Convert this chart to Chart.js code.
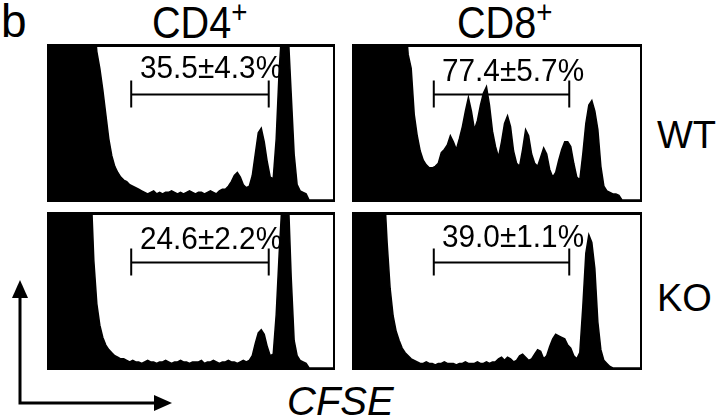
<!DOCTYPE html>
<html>
<head>
<meta charset="utf-8">
<script src="https://cdn.jsdelivr.net/npm/chart.js@4"></script>
<style>
body { margin: 0; background: #fff; width: 720px; height: 417px; overflow: hidden; position: relative; font-family: "Liberation Sans", Arial, sans-serif; }
.panel { position: absolute; box-sizing: border-box; border: 2px solid #000; border-top-width: 3px; }
.panel canvas { display: block; }
.lbl { position: absolute; line-height: 1; white-space: nowrap; color: #000; }
.pct { font-size: 32px; transform: scaleX(0.93); transform-origin: left top; }
.hdr { font-size: 44px; transform: scaleX(0.9); transform-origin: left top; }
sup { font-size: 0.7em; vertical-align: 0.5em; line-height: 0; }
</style>
</head>
<body>
<div class="lbl" style="left:1px;top:-2px;font-size:46px">b</div>
<div class="lbl hdr" style="left:152px;top:1px">CD4<sup>+</sup></div>
<div class="lbl hdr" style="left:457px;top:1px">CD8<sup>+</sup></div>

<div class="panel" style="left:47px;top:44px;width:288px;height:158px"><canvas id="cd4wt" width="284" height="153"></canvas></div>
<div class="panel" style="left:352px;top:44px;width:290px;height:158px"><canvas id="cd8wt" width="286" height="153"></canvas></div>
<div class="panel" style="left:47px;top:212px;width:288px;height:158px"><canvas id="cd4ko" width="284" height="153"></canvas></div>
<div class="panel" style="left:352px;top:212px;width:290px;height:158px"><canvas id="cd8ko" width="286" height="153"></canvas></div>

<div class="lbl pct" style="left:140px;top:51px">35.5±4.3%</div>
<div class="lbl pct" style="left:442px;top:54px">77.4±5.7%</div>
<div class="lbl pct" style="left:140px;top:222px">24.6±2.2%</div>
<div class="lbl pct" style="left:442px;top:220px">39.0±1.1%</div>

<div class="lbl" style="left:657px;top:116px;font-size:38px">WT</div>
<div class="lbl" style="left:657px;top:279px;font-size:38px">KO</div>
<div class="lbl" style="left:287px;top:381px;font-size:40px;font-style:italic">CFSE</div>

<svg style="position:absolute;left:0;top:0" width="720" height="417">
  <polyline points="20,296 20,403 156,403" fill="none" stroke="#000" stroke-width="3"/>
  <polygon points="20,280 12,298 28,298" fill="#000"/>
  <polygon points="172,403 154,395 154,411" fill="#000"/>
</svg>

<script>
// CFSE histogram bins (channel index) and event heights (% of panel height)
const bins = Array.from({length: 96}, (_, i) => i);

const cd4WT = [120,120,120,120,120,120,120,120,120,120,120,120,120,120,120,120,
  97,86,72,56,40,29,22,18,15,13,12,10,9,8,7,6,
  5,4,5,6,4,5,4,5,5,6,5,4,5,4,5,6,5,4,5,5,4,5,6,5,4,6,7,
  7,9,12,16,18,15,10,8,9,16,30,44,47,38,25,15,14,40,85,115,120,110,70,30,10,6,5,4,
  0,0,0,0,0,0,0,0,0];

const cd8WT = [120,120,120,120,120,120,120,120,120,120,120,120,120,120,120,120,120,120,
  95,86,56,42,32,26,23,21,21,22,24,31,33,36,42,38,33,40,48,58,67,58,46,52,62,70,74,62,
  45,35,28,38,50,55,48,32,24,22,33,46,42,30,24,22,28,34,30,20,15,18,26,33,38,38,35,24,
  15,13,30,50,62,65,58,46,22,9,6,5,4,4,3,
  0,0,0,0,0,0,0];

const cd4KO = [120,120,120,120,120,120,120,120,120,120,120,120,120,120,120,
  70,42,28,20,15,12,10,8,7,6,6,5,
  4,5,4,4,3,4,5,4,4,3,4,4,5,4,3,4,4,5,4,4,3,4,4,4,5,3,4,4,5,4,3,4,4,5,4,4,3,4,5,
  4,5,8,16,23,25,22,14,8,9,35,75,110,120,115,60,18,8,5,4,3,
  0,0,0,0,0,0,0,0,0];

const cd8KO = [120,120,120,120,120,120,120,120,120,120,120,
  82,52,34,24,18,13,10,8,6,5,
  4,3,3,4,3,3,2,3,3,4,3,3,3,2,3,3,4,3,3,3,4,3,3,4,3,4,
  4,6,7,5,7,6,4,5,8,9,7,5,6,9,12,11,6,8,14,19,22,21,20,19,15,13,8,6,10,40,75,87,82,65,30,12,5,3,1,
  0,0,0,0,0,0,0,0,0,0];

// gate markers: [start bin, end bin, level]
const cd4Gate = [27.5, 73.5, 69];
const cd8Gate = [26.5, 71.5, 69];

const gatePlugin = {
  id: "gate",
  afterDatasetsDraw(chart, args, opts) {
    const {ctx, scales: {x, y}} = chart;
    const x0 = x.getPixelForValue(opts.range[0]);
    const x1 = x.getPixelForValue(opts.range[1]);
    const yy = y.getPixelForValue(opts.range[2]);
    ctx.save();
    ctx.strokeStyle = "#000";
    ctx.lineWidth = 2;
    ctx.beginPath();
    ctx.moveTo(x0, yy); ctx.lineTo(x1, yy);
    ctx.moveTo(x0, yy - 14); ctx.lineTo(x0, yy + 13);
    ctx.moveTo(x1, yy - 14); ctx.lineTo(x1, yy + 13);
    ctx.stroke();
    ctx.restore();
  }
};

function panel(id, values, gate) {
  new Chart(document.getElementById(id), {
    type: "line",
    data: {
      labels: bins,
      datasets: [{
        data: values,
        fill: "origin",
        backgroundColor: "#000",
        borderColor: "#000",
        borderWidth: 1.5,
        pointRadius: 0,
        tension: 0
      }]
    },
    options: {
      responsive: false,
      animation: false,
      events: [],
      layout: { padding: 0 },
      plugins: {
        legend: { display: false },
        tooltip: { enabled: false },
        gate: { range: gate }
      },
      scales: {
        x: { display: false },
        y: { display: false, min: 0, max: 100 }
      }
    },
    plugins: [gatePlugin]
  });
}

panel("cd4wt", cd4WT, cd4Gate);
panel("cd8wt", cd8WT, cd8Gate);
panel("cd4ko", cd4KO, cd4Gate);
panel("cd8ko", cd8KO, cd8Gate);
</script>
</body>
</html>
